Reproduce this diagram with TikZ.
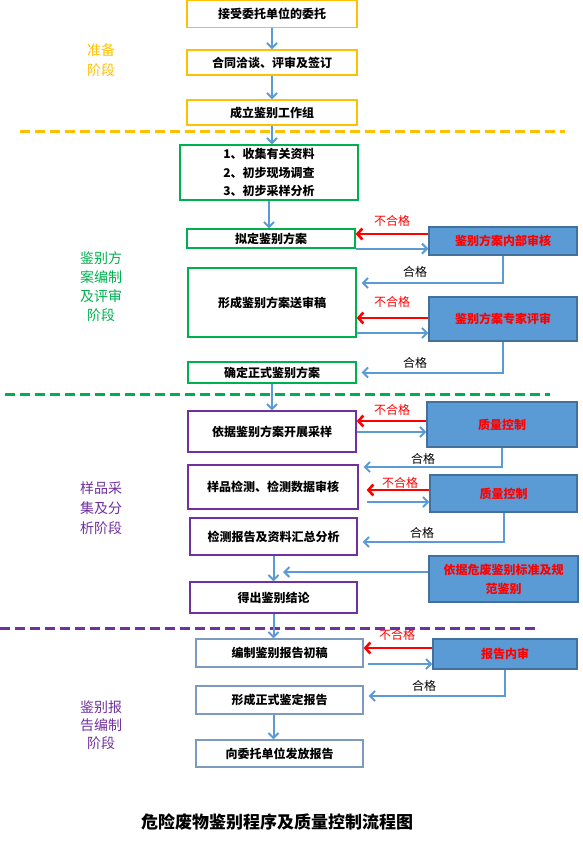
\documentclass[tikz,border=0pt]{standalone}
\usepackage{fontspec}
\setmainfont{Noto Sans CJK SC}
\usepackage{xcolor}
\definecolor{StageOrange}{RGB}{255,192,0}
\definecolor{StageGreen}{RGB}{0,176,80}
\definecolor{StagePurple}{RGB}{112,48,160}
\definecolor{ReportGray}{RGB}{125,155,190}
\definecolor{FlowBlue}{RGB}{91,155,213}
\definecolor{CheckBorder}{RGB}{65,113,156}
\definecolor{FailRed}{RGB}{255,0,0}
\usetikzlibrary{
    arrows.meta
}

\begin{document}
\begin{tikzpicture}[
    x=1pt,
    y=-1pt,
%
    stepbox/.style={
        draw,
        fill=white,
        line width=1.2pt,
        align=center,
        inner sep=0pt,
        font=\fontsize{12}{15}\selectfont\bfseries
    },
%
    prepbox/.style={stepbox, draw=StageOrange},
    planbox/.style={stepbox, draw=StageGreen},
    samplebox/.style={stepbox, draw=StagePurple},
    reportbox/.style={stepbox, draw=ReportGray},
%
    checkbox/.style={
        draw=CheckBorder,
        fill=FlowBlue,
        line width=1.2pt,
        align=center,
        inner sep=0pt,
        text=FailRed,
        font=\fontsize{12}{19}\selectfont\bfseries
    },
%
    flow/.style={
        -{Straight Barb[length=5pt,width=10pt]},
        line width=2pt,
        color=FlowBlue
    },
%
    pass/.style={
        flow,
        rounded corners=0pt,
        shorten >=5pt
    },
%
    fail/.style={
        -{Straight Barb[length=5pt,width=11pt]},
        line width=2.6pt,
        color=FailRed
    },
%
    passlabel/.style={font=\fontsize{12}{14}\selectfont},
    faillabel/.style={font=\fontsize{12}{14}\selectfont, text=FailRed},
%
    stagelabel/.style={align=center},
%
    divider/.style={line width=3pt, dash pattern=on 10pt off 5pt}
]
\useasboundingbox (0,0) rectangle (582,842);
%
% Stage dividers
%
\draw[divider, StageOrange] (20,132) -- (565,132);
\draw[divider, StageGreen] (5,394) -- (550,394);
\draw[divider, StagePurple] (0,628) -- (537,628);
%
% Preparation stage
%
\node[
    prepbox,
    minimum width=170pt,
    minimum height=27pt
] (accept) at (272,14) {接受委托单位的委托};
%
\node[
    prepbox,
    minimum width=170pt,
    minimum height=25pt
] (contract) at (272,62.5) {合同洽谈、评审及签订};
%
\node[
    prepbox,
    minimum width=170pt,
    minimum height=25pt
] (team) at (272,112.5) {成立鉴别工作组};
%
\node[
    stagelabel,
    text=StageOrange,
    font=\fontsize{14}{20}\selectfont
] (prepstage) at (101,60) {
    准备\\
    阶段
};
%
% Plan stage
%
\node[
    planbox,
    minimum width=178pt,
    minimum height=55pt,
    font=\fontsize{12}{18.5}\selectfont\bfseries
] (survey) at (269,172.5) {
    1、收集有关资料\\
    2、初步现场调查\\
    3、初步采样分析
};
%
\node[
    planbox,
    minimum width=168pt,
    minimum height=19pt
] (draft) at (271,238.5) {拟定鉴别方案};
%
\node[
    planbox,
    minimum width=168pt,
    minimum height=69pt
] (review) at (272,302.5) {形成鉴别方案送审稿};
%
\node[
    planbox,
    minimum width=168pt,
    minimum height=21pt
] (final) at (272,372.5) {确定正式鉴别方案};
%
\node[
    checkbox,
    minimum width=148pt,
    minimum height=28pt
] (inner) at (503,241) {鉴别方案内部审核};
%
\node[
    checkbox,
    minimum width=148pt,
    minimum height=44pt
] (expert) at (503,319) {鉴别方案专家评审};
%
\node[
    stagelabel,
    text=StageGreen,
    font=\fontsize{14}{19}\selectfont
] (planstage) at (101,286.5) {
    鉴别方\\
    案编制\\
    及评审\\
    阶段
};
%
% Sampling stage
%
\node[
    samplebox,
    minimum width=168pt,
    minimum height=41pt
] (sampling) at (272,431.5) {依据鉴别方案开展采样};
%
\node[
    samplebox,
    minimum width=170pt,
    minimum height=44pt
] (testing) at (273,487) {样品检测、检测数据审核};
%
\node[
    samplebox,
    minimum width=167pt,
    minimum height=37pt
] (summary) at (273.5,536.5) {检测报告及资料汇总分析};
%
\node[
    samplebox,
    minimum width=167pt,
    minimum height=31pt
] (verdict) at (273.5,597.5) {得出鉴别结论};
%
\node[
    checkbox,
    minimum width=150pt,
    minimum height=45pt
] (qcone) at (502,424.5) {质量控制};
%
\node[
    checkbox,
    minimum width=147pt,
    minimum height=37pt
] (qctwo) at (503.5,493.5) {质量控制};
%
\node[
    checkbox,
    minimum width=149pt,
    minimum height=46pt
] (standard) at (503.5,579) {
    依据危废鉴别标准及规\\
    范鉴别
};
%
\coordinate (join) at (283,572);
%
\node[
    stagelabel,
    text=StagePurple,
    font=\fontsize{14}{20}\selectfont
] (samplestage) at (101,508) {
    样品采\\
    集及分\\
    析阶段
};
%
% Report stage
%
\node[
    reportbox,
    minimum width=167pt,
    minimum height=28pt
] (firstdraft) at (279.5,653) {编制鉴别报告初稿};
%
\node[
    reportbox,
    minimum width=167pt,
    minimum height=28pt
] (formal) at (279.5,700) {形成正式鉴定报告};
%
\node[
    reportbox,
    minimum width=167pt,
    minimum height=27pt
] (issue) at (279.5,753.5) {向委托单位发放报告};
%
\node[
    checkbox,
    minimum width=144pt,
    minimum height=30pt
] (audit) at (505,654) {报告内审};
%
\node[
    stagelabel,
    text=StagePurple,
    font=\fontsize{14}{18}\selectfont
] (reportstage) at (101,725) {
    鉴别报\\
    告编制\\
    阶段
};
%
% Main flow
%
\draw[flow] (accept) -- (contract);
\draw[flow] (contract) -- (team);
\draw[flow] (team) -- (team.south |- survey.north);
\draw[flow] (survey.south) -- (survey.south |- draft.north);
\draw[flow] (final) -- (final.south |- sampling.north);
\draw[flow] (summary) -- (summary.south |- verdict.north);
\draw[flow] (verdict.south) -- (verdict.south |- firstdraft.north);
\draw[flow] (verdict.south |- formal.south) -- (verdict.south |- issue.north);
%
% Inner review loop
%
\draw[fail] ([yshift=7pt]inner.west) -- ([yshift=7pt]inner.west -| draft.east);
\draw[flow] (draft.south east) -- (draft.south east -| inner.west);
\draw[pass] (inner.south) |- ([yshift=19.5pt]review.east);
\node[faillabel] (innerfail) at (392,221) {不合格};
\node[passlabel] (innerpass) at (415,272) {合格};
%
% Expert review loop
%
\draw[fail] ([yshift=1pt]expert.west) -- ([yshift=1pt]expert.west -| review.east);
\draw[flow] ([yshift=-14pt]expert.west -| review.east) -- ([yshift=-14pt]expert.west);
\draw[pass] (expert.south) |- (final.east);
\node[faillabel] (expertfail) at (392,302) {不合格};
\node[passlabel] (expertpass) at (415,363) {合格};
%
% Sampling quality control
%
\draw[fail] ([yshift=3.5pt]qcone.west) -- ([yshift=3.5pt]qcone.west -| sampling.east);
\draw[flow] ([yshift=-7.5pt]qcone.west -| sampling.east) -- ([yshift=-7.5pt]qcone.west);
\draw[pass] (qcone.south) |- ([yshift=20pt]testing.east);
\node[faillabel] (qconefail) at (392,410) {不合格};
\node[passlabel] (qconepass) at (423,459) {合格};
%
% Testing quality control
%
\draw[fail, shorten >=8pt] ([yshift=3.5pt]qctwo.west) -- ([yshift=3.5pt]qctwo.west -| testing.east);
\draw[flow] ([xshift=8pt,yshift=-8.5pt]qctwo.west -| testing.east) -- ([yshift=-8.5pt]qctwo.west);
\draw[pass] (qctwo.south) |- ([yshift=-5.5pt]summary.east);
\node[faillabel] (qctwofail) at (400,483) {不合格};
\node[passlabel] (qctwopass) at (422,533) {合格};
%
% Standard judgement
%
\draw[flow] ([yshift=7pt]standard.west) -- ([yshift=7pt]standard.west -| join);
%
% Report audit loop
%
\draw[fail] ([yshift=6pt]audit.west) -- ([yshift=6pt]audit.west -| firstdraft.east);
\draw[flow] ([xshift=4pt,yshift=-10pt]audit.west -| firstdraft.east) -- ([yshift=-10pt]audit.west);
\draw[pass] (audit.south) |- ([yshift=4pt]formal.east);
\node[faillabel] (auditfail) at (397,635) {不合格};
\node[passlabel] (auditpass) at (424,686) {合格};
%
% Title
%
\node[
    font=\fontsize{17}{20}\selectfont\bfseries
] (title) at (277,822) {危险废物鉴别程序及质量控制流程图};
%
\end{tikzpicture}
\end{document}
